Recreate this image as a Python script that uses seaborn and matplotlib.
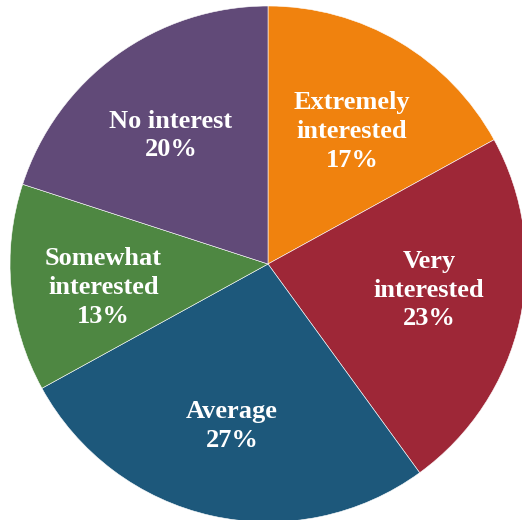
import matplotlib
matplotlib.use("Agg")
import matplotlib.pyplot as plt
import seaborn as sns

categories = ["Extremely\ninterested", "Very\ninterested", "Average",
              "Somewhat\ninterested", "No interest"]
shares = [17, 23, 27, 13, 20]
colors = ["#F0820E", "#9E2737", "#1D587B", "#4E8742", "#614A78"]

sns.set_theme(style="white")
plt.rcParams['font.family'] = ['Liberation Serif', 'DejaVu Serif']

fig = plt.figure(figsize=(5.22, 5.20), dpi=100)
ax = fig.add_axes([0, 0, 1, 1])

palette = sns.color_palette(colors)

wedges, texts = ax.pie(
    shares,
    colors=palette,
    startangle=90,
    counterclock=False,
    radius=1,
    labels=[f"{c}\n{v}%" for c, v in zip(categories, shares)],
    labeldistance=0.64,
    wedgeprops=dict(edgecolor="white", linewidth=0.4),
    textprops=dict(color="white", fontsize=19, fontweight="bold",
                   linespacing=1.32),
)

# small vertical nudges (axes units) so labels sit like the original
nudge = [-0.038, 0.038, -0.004, -0.03, -0.02]
for t, dy in zip(texts, nudge):
    t.set_ha("center")
    t.set_va("center")
    x, y = t.get_position()
    t.set_position((x, y + dy))

scale = 258.0
ax.set_xlim(-268 / scale, (522 - 268) / scale)
ax.set_ylim(-(520 - 264) / scale, 264 / scale)
ax.set_aspect("auto")
ax.axis("off")

fig.savefig("out.png", dpi=100)
